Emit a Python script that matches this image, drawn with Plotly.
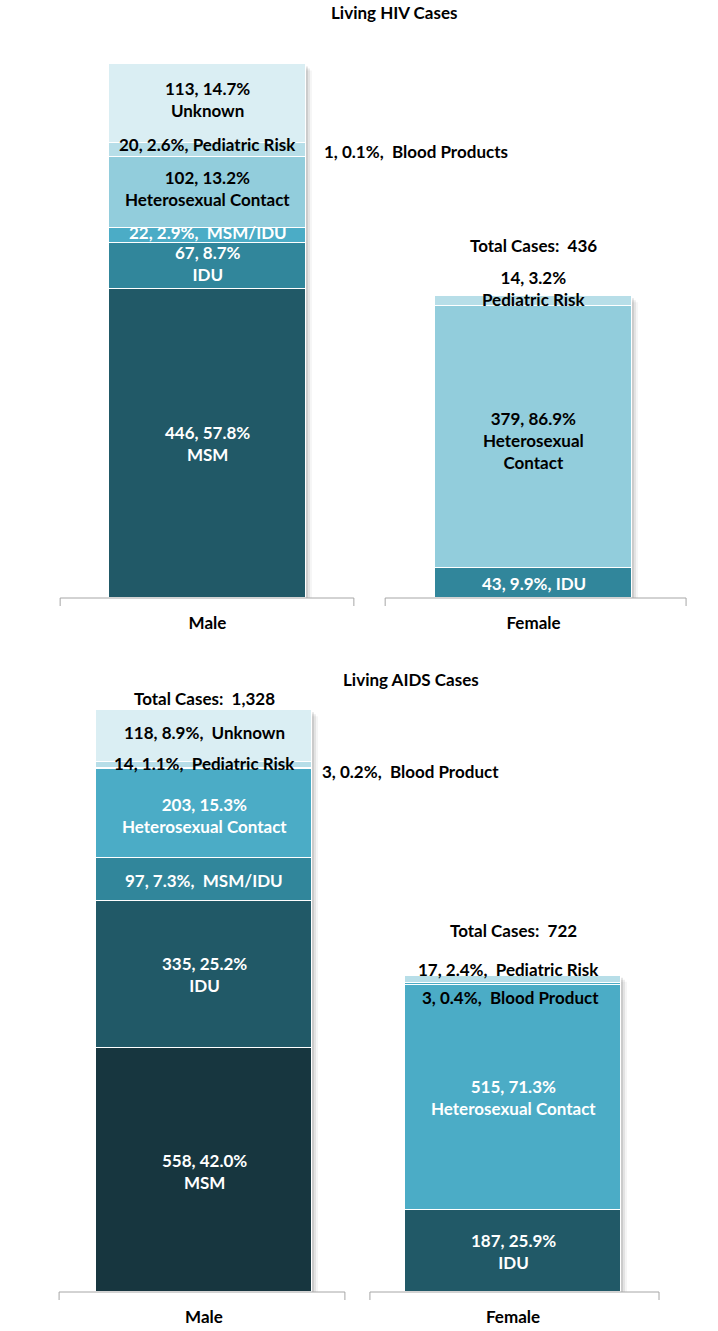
import plotly.graph_objects as go

# ---------------- data ----------------
sexes = ["Male", "Female"]

hiv_male_groups = ["MSM", "IDU", "MSM/IDU", "Heterosexual Contact", "Blood Products", "Pediatric Risk", "Unknown"]
hiv_male_counts = [446, 67, 22, 102, 1, 20, 113]
hiv_male_pcts = [57.8, 8.7, 2.9, 13.2, 0.1, 2.6, 14.7]
hiv_female_groups = ["IDU", "Heterosexual Contact", "Pediatric Risk"]
hiv_female_counts = [43, 379, 14]
hiv_female_pcts = [9.9, 86.9, 3.2]

aids_male_groups = ["MSM", "IDU", "MSM/IDU", "Heterosexual Contact", "Blood Product", "Pediatric Risk", "Unknown"]
aids_male_counts = [558, 335, 97, 203, 3, 14, 118]
aids_male_pcts = [42.0, 25.2, 7.3, 15.3, 0.2, 1.1, 8.9]
aids_female_groups = ["IDU", "Heterosexual Contact", "Blood Product", "Pediatric Risk"]
aids_female_counts = [187, 515, 3, 17]
aids_female_pcts = [25.9, 71.3, 0.4, 2.4]

# ---------------- styles ----------------
FONT = "Lato"
FS = 17
W, H = 718, 1331

hiv_colors = {"MSM": "#215967", "IDU": "#31869B", "MSM/IDU": "#4BACC6",
              "Heterosexual Contact": "#92CDDC", "Blood Products": "#92CDDC",
              "Pediatric Risk": "#B7DEE8", "Unknown": "#DAEEF3"}
aids_colors = {"MSM": "#17363F", "IDU": "#215967", "MSM/IDU": "#31869B",
               "Heterosexual Contact": "#4BACC6", "Blood Product": "#4BACC6",
               "Pediatric Risk": "#B7DEE8", "Unknown": "#DAEEF3"}

# label style: (format, color, xanchor, xshift, yshift)
hiv_styles = {
    ("Male", "MSM"): ("stack", "white", "center", 0, 0),
    ("Male", "IDU"): ("stack", "white", "center", 0, 3),
    ("Male", "MSM/IDU"): ("inline2", "white", "center", 0, 3),
    ("Male", "Heterosexual Contact"): ("stack", "black", "center", 0, 4),
    ("Male", "Blood Products"): ("inline2", "black", "left", 114, 5),
    ("Male", "Pediatric Risk"): ("inline", "black", "center", 0, 5),
    ("Male", "Unknown"): ("stack", "black", "center", 0, 4),
    ("Female", "IDU"): ("inline", "white", "center", 0, 0),
    ("Female", "Heterosexual Contact"): ("wrap", "black", "center", 0, -3),
    ("Female", "Pediatric Risk"): ("stack", "black", "center", 0, 13),
}
aids_styles = {
    ("Male", "MSM"): ("stack", "white", "center", 0, -2),
    ("Male", "IDU"): ("stack", "white", "center", 0, 0),
    ("Male", "MSM/IDU"): ("inline2", "white", "center", 0, -1),
    ("Male", "Heterosexual Contact"): ("stack", "white", "center", 0, -2),
    ("Male", "Blood Product"): ("inline2", "black", "left", 116, -3),
    ("Male", "Pediatric Risk"): ("inline2", "black", "center", 0, 2),
    ("Male", "Unknown"): ("inline2", "black", "center", 0, 4),
    ("Female", "IDU"): ("stack", "white", "center", 0, 0),
    ("Female", "Heterosexual Contact"): ("stack", "white", "center", 0, 0),
    ("Female", "Blood Product"): ("inline2", "black", "center", -3, -14),
    ("Female", "Pediatric Risk"): ("inline2", "black", "center", -5, 10),
}


def fmt_label(n, p, g, style):
    if style == "stack":
        return f"<b>{n:,}, {p:.1f}%<br>{g}</b>"
    if style == "wrap":
        return f"<b>{n:,}, {p:.1f}%<br>{g.replace(' ', '<br>')}</b>"
    if style == "inline":
        return f"<b>{n:,}, {p:.1f}%, {g}</b>"
    return f"<b>{n:,}, {p:.1f}%,\u00a0 {g}</b>"


charts = [
    dict(xa="x", ya="y", title="Living HIV Cases",
         data={"Male": (hiv_male_groups, hiv_male_counts, hiv_male_pcts),
               "Female": (hiv_female_groups, hiv_female_counts, hiv_female_pcts)},
         colors=hiv_colors, styles=hiv_styles, bw=0.604,
         totals={"Female": 51}, title_pos=(394, 12),
         base_px=598, top_px=40, scale=0.692, c0=207.5, step=326,
         seg=[(-0.452, 0.449), (0.545, 1.468)]),
    dict(xa="x2", ya="y2", title="Living AIDS Cases",
         data={"Male": (aids_male_groups, aids_male_counts, aids_male_pcts),
               "Female": (aids_female_groups, aids_female_counts, aids_female_pcts)},
         colors=aids_colors, styles=aids_styles, bw=0.699,
         totals={"Male": 12, "Female": 45}, title_pos=(411, 679),
         base_px=1292, top_px=700, scale=0.438, c0=204, step=309,
         seg=[(-0.469, 0.456), (0.537, 1.4725)]),
]

fig = go.Figure()
annotations = []
shapes = []

for ci, ch in enumerate(charts):
    xa, ya = ch["xa"], ch["ya"]
    for si, sex in enumerate(sexes):
        groups, counts, pcts = ch["data"][sex]
        total = sum(counts)
        # soft shadow behind the bar
        for k, a in enumerate([0.10, 0.07, 0.04]):
            off = (2 + 2 * k) / ch["step"]
            shapes.append(dict(type="rect", xref=xa, yref=ya, layer="below",
                               x0=si - ch["bw"] / 2 + off, x1=si + ch["bw"] / 2 + off,
                               y0=0, y1=total - (2 + 2 * k) / ch["scale"],
                               fillcolor=f"rgba(0,0,0,{a})", line=dict(width=0)))
        cum = 0
        for g, n, p in zip(groups, counts, pcts):
            fig.add_trace(go.Bar(x=[si], y=[n], width=ch["bw"], xaxis=xa, yaxis=ya,
                                 marker=dict(color=ch["colors"][g], line=dict(color="white", width=1)),
                                 showlegend=False, hoverinfo="skip", name=g))
            mid = cum + n / 2
            cum += n
            style, col, xanc, xsh, ysh = ch["styles"][(sex, g)]
            annotations.append(dict(x=si, y=mid, xref=xa, yref=ya, xanchor=xanc, xshift=xsh,
                                    yshift=ysh, yanchor="middle", showarrow=False,
                                    text=fmt_label(n, p, g, style), align="center",
                                    font=dict(family=FONT, size=FS, color=col)))
        if sex in ch["totals"]:
            annotations.append(dict(x=si, y=total, xref=xa, yref=ya, yanchor="middle",
                                    yshift=ch["totals"][sex], showarrow=False,
                                    text=f"<b>Total Cases:\u00a0 {total:,}</b>",
                                    font=dict(family=FONT, size=FS, color="black")))
    # title
    tx, ty = ch["title_pos"]
    annotations.append(dict(x=tx / W, y=1 - ty / H, xref="paper", yref="paper",
                            xanchor="center", yanchor="middle", showarrow=False,
                            text=f"<b>{ch['title']}</b>",
                            font=dict(family=FONT, size=17, color="black")))
    # axis line segments with end ticks
    dom_h = ch["base_px"] - ch["top_px"]
    tick = -8 / dom_h
    for (a, b) in ch["seg"]:
        shapes.append(dict(type="line", xref=xa, yref=f"{ya} domain", x0=a, x1=b, y0=0, y1=0,
                           line=dict(color="#A6A6A6", width=1)))
        for xx in (a, b):
            shapes.append(dict(type="line", xref=xa, yref=f"{ya} domain", x0=xx, x1=xx, y0=0, y1=tick,
                               line=dict(color="#A6A6A6", width=1)))

layout_axes = {}
for ci, ch in enumerate(charts):
    suffix = "" if ci == 0 else str(ci + 1)
    c0, step = ch["c0"], ch["step"]
    layout_axes["xaxis" + suffix] = dict(
        domain=[0, 1], anchor="y" + suffix,
        range=[-c0 / step, 1 + (W - (c0 + step)) / step],
        tickvals=[0, 1], ticktext=[f"<b>{s}</b>" for s in sexes],
        tickfont=dict(family=FONT, size=FS, color="black"),
        ticks="outside", ticklen=10, tickcolor="rgba(0,0,0,0)",
        showgrid=False, zeroline=False, showline=False, fixedrange=True)
    layout_axes["yaxis" + suffix] = dict(
        domain=[(H - ch["base_px"]) / H, (H - ch["top_px"]) / H], anchor="x" + suffix,
        range=[0, (ch["base_px"] - ch["top_px"]) / ch["scale"]],
        visible=False, showgrid=False, zeroline=False, fixedrange=True)

fig.update_layout(
    width=W, height=H, barmode="stack", bargap=0,
    margin=dict(l=0, r=0, t=0, b=0),
    paper_bgcolor="white", plot_bgcolor="white",
    font=dict(family=FONT, size=FS, color="black"),
    annotations=annotations, shapes=shapes,
    **layout_axes,
)

fig.write_html("out.html", config={"displayModeBar": False},
               post_script="document.body.style.margin='0px';document.body.style.overflow='hidden';")
